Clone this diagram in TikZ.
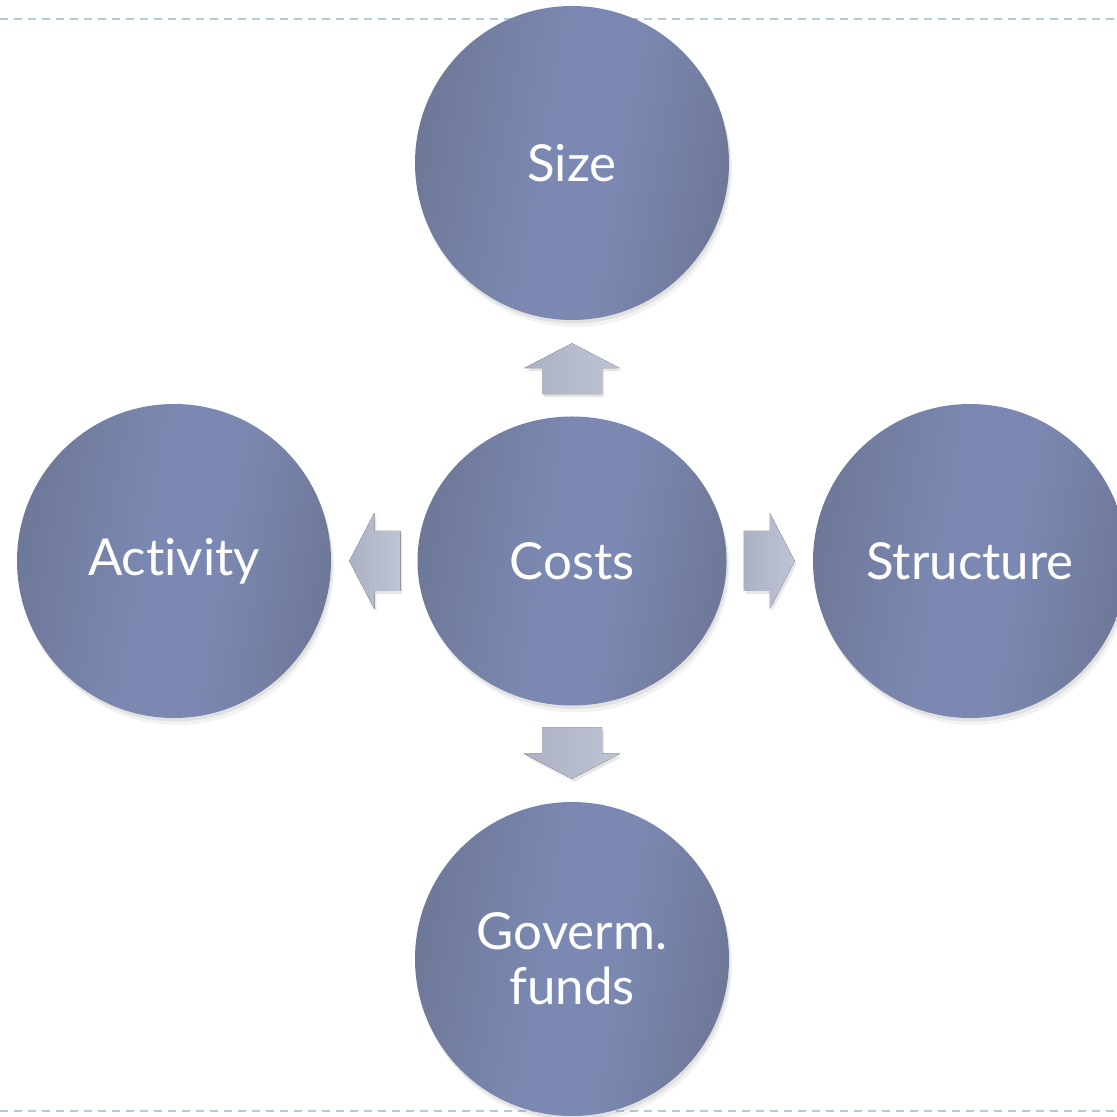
\documentclass[tikz,border=0pt]{standalone}
\usepackage{fontspec}
\setmainfont{Lato}[Ligatures=NoCommon]
\usetikzlibrary{positioning,shadows,shapes.geometric}

\definecolor{circdark}{HTML}{6E7898}
\definecolor{circlight}{HTML}{7B88B1}
\definecolor{arrowlight}{HTML}{BFC4D4}
\definecolor{arrowdark}{HTML}{ABB1C4}
\definecolor{dashblue}{HTML}{B3C9DE}

% soft band of light a little right of the middle
\pgfdeclarehorizontalshading{bubbleshade}{100bp}{color(0bp)=(circdark); color(25bp)=(circdark);
    color(46bp)=(circlight); color(57bp)=(circlight); color(75bp)=(circdark); color(100bp)=(circdark)}

\tikzset{
    bubble/.style={circle, minimum size=314pt, inner sep=0pt, align=center,
        shading=bubbleshade, shading angle=-10, text=white,
        font=\fontsize{51}{55}\selectfont,
        drop shadow={opacity=0.10, shadow xshift=3pt, shadow yshift=-7pt},
        drop shadow={opacity=0.15, shadow xshift=1.5pt, shadow yshift=-3.5pt}},
    blockarrow/.style={left color=arrowdark, right color=arrowlight,
        drop shadow={opacity=0.2, shadow xshift=2pt, shadow yshift=-3pt}},
    dashline/.style={draw=dashblue, line width=2pt, dash pattern=on 8pt off 6pt}
}

\begin{document}
\begin{tikzpicture}[x=1pt,y=1pt,node distance=398pt,on grid]
    \clip (0,0) rectangle (1117,1117);
    \draw[dashline] (0,1098) -- (1117,1098);
    \draw[dashline] (0,6) -- (1117,6);

    \node[bubble, ellipse, minimum width=309pt, minimum height=289pt] (costs) at (572,556) {Costs};
    \node[bubble] [above=of costs] (size) {Size};
    \node[bubble] [left=of costs] (activity) {Activity};
    \node[bubble] [right=of costs] (structure) {Structure};
    \node[bubble] [below=of costs] (funds) {Goverm.\\funds};

    \path (costs.north) -- (size.south) coordinate[midway] (up);
    \path (costs.west) -- (activity.east) coordinate[midway] (lt);
    \path (costs.east) -- (structure.west) coordinate[midway] (rt);
    \path (costs.south) -- (funds.north) coordinate[midway] (dn);

    \foreach \pos/\ang in {up/90, lt/180, rt/0, dn/270} {
        \begin{scope}[shift={(\pos)}, rotate=\ang]
            \fill[blockarrow] (-26,-30) -- (0,-30) -- (0,-48) -- (25,0)
                -- (0,48) -- (0,30) -- (-26,30) -- cycle;
        \end{scope}
    }
\end{tikzpicture}
\end{document}
